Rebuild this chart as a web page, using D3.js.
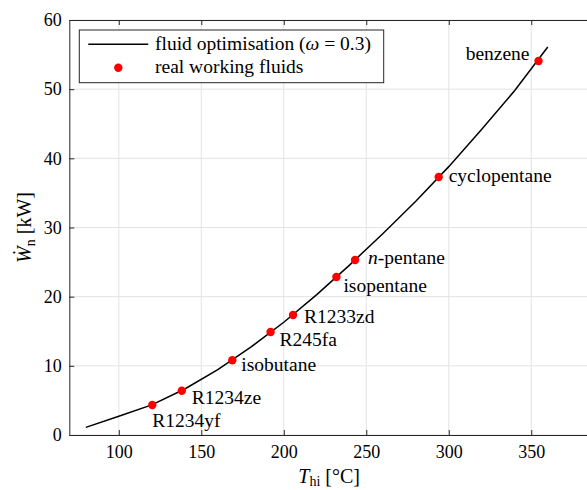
<!DOCTYPE html>
<html>
<head>
<meta charset="utf-8">
<script src="https://cdn.jsdelivr.net/npm/d3@7"></script>
<style>
  body { margin: 0; background: #fff; }
  text { font-family: "Liberation Serif", "Times New Roman", serif; fill: #000; }
</style>
</head>
<body>
<div class="chart"></div>
<script>
var svgWidth = 587;
var svgHeight = 490;

// optimisation curve, omega = 0.3
var curveT = [80, 100, 120, 140, 160, 180, 200, 220, 240, 260, 280, 300, 320, 340, 360];
var curveW = [1.1, 2.7, 4.35, 6.65, 9.45, 12.7, 16.3, 20.3, 24.6, 29.1, 33.8, 38.8, 44.2, 49.8, 56.1];

// real working fluids
var fluidNames = ["R1234yf", "R1234ze", "isobutane", "R245fa", "R1233zd", "isopentane", "n-pentane", "cyclopentane", "benzene"];
var fluidT = [120.3, 138.2, 168.8, 192.0, 205.6, 231.9, 243.2, 293.9, 354.4];
var fluidW = [4.34, 6.40, 10.8, 14.9, 17.35, 22.84, 25.3, 37.3, 54.07];

var xTicks = [100, 150, 200, 250, 300, 350];
var yTicks = [0, 10, 20, 30, 40, 50, 60];

// label placement next to each dot (dx, dy, anchor)
var labelPos = [[0, 22, "start"], [10, 13, "start"], [9, 11, "start"], [9, 14, "start"],
  [11, 8, "start"], [7, 15, "start"], [13, 4, "start"], [10, 5, "start"], [-9, -1, "end"]];

var axisColor = "#262626";
var fs = 18;
var lfs = 19.5;

var svg = d3.select(".chart")
  .append("svg")
  .attr("width", svgWidth)
  .attr("height", svgHeight);

var x = d3.scaleLinear().domain([70, 385]).range([69.3, 589]);
var y = d3.scaleLinear().domain([0, 60]).range([435, 20]);

// grid
svg.append("g").selectAll("line")
  .data(xTicks)
  .enter().append("line")
  .attr("x1", d => x(d)).attr("x2", d => x(d))
  .attr("y1", y(0)).attr("y2", y(60))
  .attr("stroke", "#e3e3e3");
svg.append("g").selectAll("line")
  .data(yTicks)
  .enter().append("line")
  .attr("x1", x(70)).attr("x2", x(385))
  .attr("y1", d => y(d)).attr("y2", d => y(d))
  .attr("stroke", "#e3e3e3");

// axes
var bottomAxis = d3.axisBottom(x).tickValues(xTicks).tickSizeInner(-5).tickSizeOuter(0);
var leftAxis = d3.axisLeft(y).tickValues(yTicks).tickSizeInner(-5).tickSizeOuter(0);
var topAxis = d3.axisTop(x).tickValues(xTicks).tickSizeInner(-5).tickSizeOuter(0).tickFormat("");

var gx = svg.append("g")
  .attr("transform", `translate(0, ${y(0)})`)
  .call(bottomAxis);
gx.selectAll("text").attr("y", 23).attr("dy", null)
  .style("font-family", "Liberation Serif").style("font-size", fs + "px");

var gy = svg.append("g")
  .attr("transform", `translate(${x(70)}, 0)`)
  .call(leftAxis);
gy.selectAll("text").attr("x", -7.5)
  .style("font-family", "Liberation Serif").style("font-size", fs + "px");

svg.append("g")
  .attr("transform", `translate(0, ${y(60)})`)
  .call(topAxis);

svg.selectAll(".domain, .tick line").attr("stroke", axisColor);

// curve
var pts = curveT.map((t, i) => [t, curveW[i]]);
svg.append("path")
  .datum(pts)
  .attr("fill", "none")
  .attr("stroke", "#000")
  .attr("stroke-width", 1.5)
  .attr("d", d3.line().x(d => x(d[0])).y(d => y(d[1])));

// fluids
var fluids = fluidNames.map((n, i) => ({name: n, t: fluidT[i], w: fluidW[i], pos: labelPos[i]}));
svg.append("g").selectAll("circle")
  .data(fluids)
  .enter().append("circle")
  .attr("cx", d => x(d.t))
  .attr("cy", d => y(d.w))
  .attr("r", 4.2)
  .attr("fill", "#ff0000");

var labels = svg.append("g").selectAll("text")
  .data(fluids)
  .enter().append("text")
  .attr("x", d => x(d.t) + d.pos[0])
  .attr("y", d => y(d.w) + d.pos[1])
  .attr("text-anchor", d => d.pos[2])
  .style("font-size", lfs + "px");
labels.each(function(d) {
  var t = d3.select(this);
  if (d.name === "n-pentane") {
    t.append("tspan").attr("font-style", "italic").text("n");
    t.append("tspan").text("-pentane");
  } else {
    t.text(d.name);
  }
});

// legend
var lg = svg.append("g");
lg.append("rect")
  .attr("x", 79.3).attr("y", 30)
  .attr("width", 304.4).attr("height", 52.7)
  .attr("fill", "#fff").attr("stroke", axisColor);
lg.append("line")
  .attr("x1", 88.3).attr("x2", 148.3)
  .attr("y1", 44.3).attr("y2", 44.3)
  .attr("stroke", "#000").attr("stroke-width", 1.5);
lg.append("circle")
  .attr("cx", 118.3).attr("cy", 67.7).attr("r", 4.2).attr("fill", "#ff0000");
var l1 = lg.append("text").attr("x", 155).attr("y", 50).style("font-size", lfs + "px");
l1.append("tspan").text("fluid optimisation (");
l1.append("tspan").attr("font-style", "italic").text("ω");
l1.append("tspan").text(" = 0.3)");
lg.append("text").attr("x", 155).attr("y", 73).style("font-size", lfs + "px")
  .text("real working fluids");

// axis labels
var xl = svg.append("text")
  .attr("x", (x(70) + x(385)) / 2)
  .attr("y", 483)
  .attr("text-anchor", "middle")
  .style("font-size", "20px");
xl.append("tspan").attr("font-style", "italic").text("T");
xl.append("tspan").attr("dy", 3).style("font-size", "14px").text("hi");
xl.append("tspan").attr("dy", -3).text(" [°C]");

var yl = svg.append("text")
  .attr("transform", `translate(31, ${(y(0) + y(60)) / 2}) rotate(-90)`)
  .attr("text-anchor", "middle")
  .style("font-size", "20px");
yl.append("tspan").attr("font-style", "italic").text("W\u0307");
yl.append("tspan").attr("dy", 4).style("font-size", "14px").text("n");
yl.append("tspan").attr("dy", -4).text(" [kW]");
</script>
</body>
</html>
